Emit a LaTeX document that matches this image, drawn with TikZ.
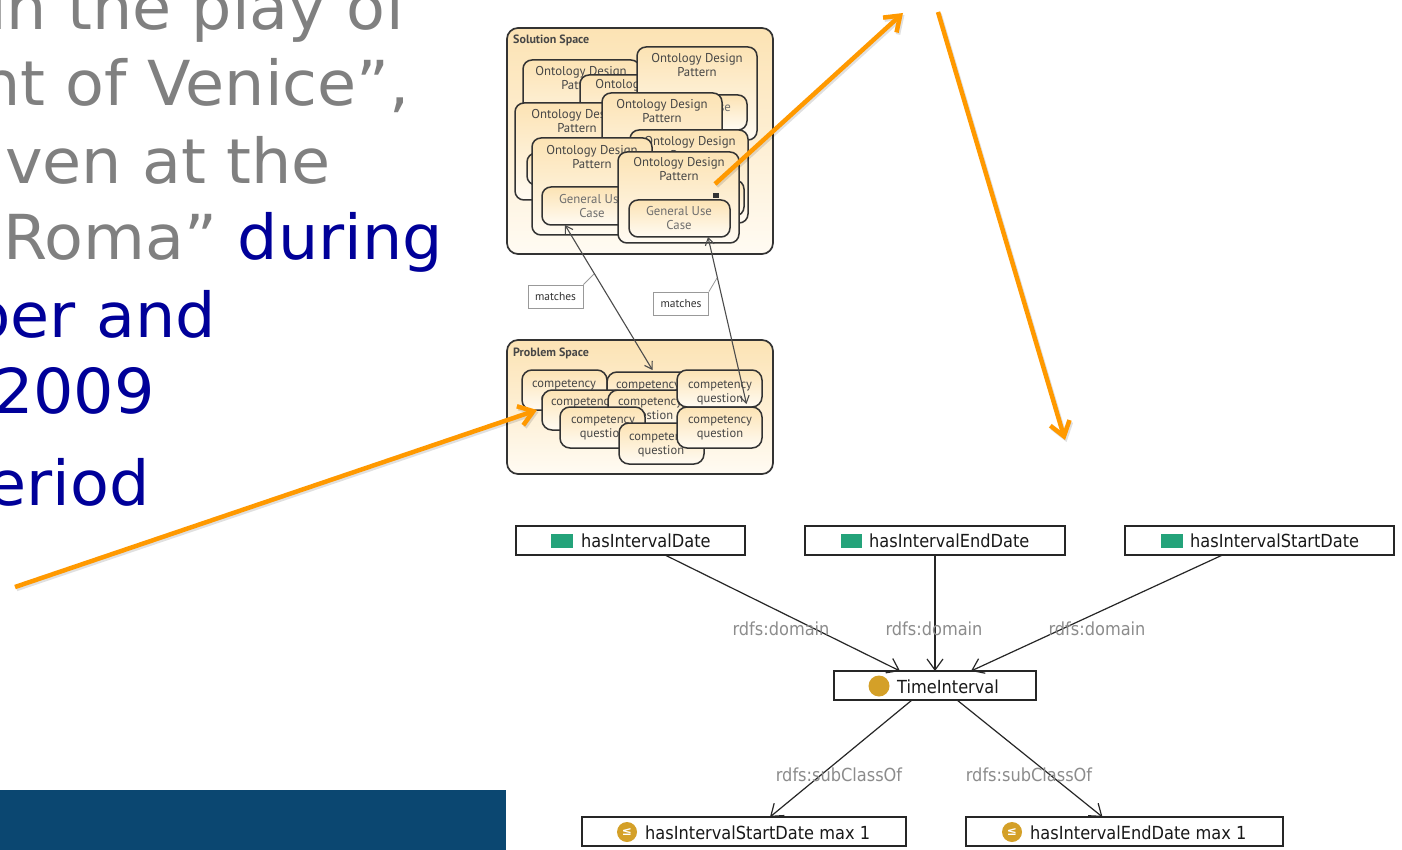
\documentclass[tikz,border=0pt]{standalone}
\usepackage{fontspec}
\setmainfont{DejaVu Sans}
\newfontfamily\slidefont[FakeStretch=1.025]{DejaVu Sans}
\newfontfamily\iconfont{DejaVu Sans}
\newfontfamily\gillfont{PT Sans}
\newfontfamily\owlfont[FakeStretch=0.9]{DejaVu Sans}
\usetikzlibrary{arrows.meta}

\definecolor{slidegray}{RGB}{128,128,128}
\definecolor{slideblue}{RGB}{0,0,153}
\definecolor{barblue}{RGB}{11,71,113}
\definecolor{hiorange}{RGB}{255,153,0}
\definecolor{creamtop}{RGB}{252,227,180}
\definecolor{creambot}{RGB}{255,251,243}
\definecolor{boxline}{RGB}{51,51,51}
\definecolor{odptext}{RGB}{70,70,70}
\definecolor{guctext}{RGB}{110,110,110}
\definecolor{owlgreen}{RGB}{36,163,122}
\definecolor{owlgold}{RGB}{212,160,40}
\definecolor{lblgray}{RGB}{140,140,140}

% rounded box from its top-left and bottom-right corners
\newcommand\cornerbox[6]{%
  \node[#1, anchor=north west, minimum width={(#5-#3)*1pt},
        minimum height={(#6-#4)*1pt}] (#2) at (#3,#4) {};}

\begin{document}
\begin{tikzpicture}[x=1pt,y=-1pt,
  panel/.style={draw=boxline, line width=1.7pt, rounded corners=11pt,
    top color=creamtop, bottom color=creambot, inner sep=0pt, outer sep=0pt},
  odp/.style={draw=boxline, line width=1.5pt, rounded corners=9pt,
    top color=creamtop, bottom color=creambot, inner sep=0pt, outer sep=0pt},
  cqbox/.style={odp, rounded corners=10pt},
  paneltitle/.style={font=\gillfont\bfseries\fontsize{12}{14}\selectfont,
    text=odptext, anchor=base west, inner sep=0pt},
  odptxt/.style={font=\gillfont\fontsize{12.8}{14}\selectfont, text=odptext,
    align=center, inner sep=0pt},
  guctxt/.style={odptxt, text=guctext},
  cqtxt/.style={font=\gillfont\fontsize{12.5}{14}\selectfont, text=odptext,
    align=center, inner sep=0pt},
  matchbox/.style={draw=black!40, line width=0.8pt, fill=white,
    font=\gillfont\fontsize{11.5}{13}\selectfont, text=black!80,
    minimum width=55pt, minimum height=23pt, inner sep=0pt},
  matcharrow/.style={draw=black!70, line width=1.1pt,
    {Straight Barb[length=7pt,width=9pt]}-{Straight Barb[length=7pt,width=9pt]}},
  leader/.style={draw=black!40, line width=0.8pt},
  slidetxt/.style={font=\slidefont\fontsize{62}{76}\selectfont,
    anchor=base east, inner sep=0pt},
  owlbox/.style={draw=black!85, line width=1.3pt, fill=white,
    inner sep=0pt, outer sep=0pt},
  owltxt/.style={font=\owlfont\fontsize{18}{20}\selectfont, text=black!90,
    anchor=base west, inner sep=0pt},
  edgelbl/.style={font=\owlfont\fontsize{18}{20}\selectfont, text=lblgray,
    inner sep=0pt},
  owledge/.style={draw=black!85, line width=1.2pt,
    -{Straight Barb[length=11pt,width=16pt]}},
  hilite/.style={draw=hiorange, line width=4.5pt,
    -{Straight Barb[length=14pt,width=20pt]},
    preaction={draw=black, opacity=0.12, line width=4.5pt,
      transform canvas={shift={(1.5pt,-2pt)}}}},
]
\useasboundingbox (0,0) rectangle (1402,850);
\fill[white] (0,0) rectangle (1402,850);

% ---------- slide text ----------
\node[slidetxt, text=slidegray] (t1) at (408,30) {in the play of};
\node[slidetxt, text=slidegray] (t2) at (410,106) {nt of Venice”,};
\node[slidetxt, text=slidegray] (t3) at (331,184) {ven at the};
\node[slidetxt, text=slidegray] (t4) at (443,260) {Roma” \textcolor{slideblue}{during}};
\node[slidetxt, text=slideblue] (t5) at (216,337) {ber and};
\node[slidetxt, text=slideblue] (t6) at (155,413) {2009};
\node[slidetxt, text=slideblue] (t7) at (150,505) {eriod};

\fill[barblue] (0,790) rectangle (506,850);

% ---------- solution space ----------
\cornerbox{panel}{sol}{507}{28}{773}{254}
\node[paneltitle] (soltitle) at (513,44) {Solution Space};

\cornerbox{odp}{pa}{523}{60}{640}{150}
\node[odptxt] (pat) at (581,78.5) {Ontology Design\\Pattern};
\cornerbox{odp}{pc}{580}{75}{702}{140}
\node[odptxt] (pct) at (641,91) {Ontology Design\\Pattern};
\cornerbox{odp}{pb}{637}{47}{757}{140}
\node[odptxt] (pbt) at (697,65) {Ontology Design\\Pattern};
\cornerbox{odp}{pbu}{650}{95}{747}{130}
\node[guctxt] (pbut) at (698,114) {General Use\\Case};
\cornerbox{odp}{pd}{515}{103}{630}{200}
\node[odptxt] (pdt) at (577,121) {Ontology Design\\Pattern};
\cornerbox{odp}{pdu}{527}{153}{625}{185}
\cornerbox{odp}{pe}{602}{93}{722}{190}
\node[odptxt] (pet) at (662,111) {Ontology Design\\Pattern};
\cornerbox{odp}{pf}{630}{130}{748}{223}
\node[odptxt] (pft) at (690,148.5) {Ontology Design\\Pattern};
\cornerbox{odp}{pfu}{641}{180}{744}{216}
\cornerbox{odp}{pg}{532}{138}{652}{235}
\node[odptxt] (pgt) at (592,157) {Ontology Design\\Pattern};
\cornerbox{odp}{gu}{542}{187}{642}{225}
\node[guctxt] (gut) at (592,206) {General Use\\Case};
\cornerbox{odp}{ph}{618}{152}{739}{243}
\node[odptxt] (pht) at (679,169.5) {Ontology Design\\Pattern};
\cornerbox{odp}{hu}{629}{200}{730}{237}
\node[guctxt] (hut) at (679,218) {General Use\\Case};
\fill[boxline] (713,193) rectangle (719,198);

% ---------- problem space ----------
\cornerbox{panel}{prob}{507}{340}{773}{474}
\node[paneltitle] (probtitle) at (513,356) {Problem Space};

\cornerbox{cqbox}{p1}{522}{370}{607}{410}
\node[cqtxt] (p1t) at (564,392) {competency\\question};
\cornerbox{cqbox}{p2}{607}{372}{690}{410}
\node[cqtxt] (p2t) at (648,393) {competency\\question};
\cornerbox{cqbox}{p4}{542}{390}{625}{430}
\node[cqtxt] (p4t) at (583,410) {competency\\question};
\cornerbox{cqbox}{p5}{608}{390}{692}{430}
\node[cqtxt] (p5t) at (650,410) {competency\\question};
\cornerbox{cqbox}{p3}{677}{370}{762}{407}
\node[cqtxt] (p3t) at (720,393) {competency\\question};
\cornerbox{cqbox}{p6}{560}{407}{645}{448}
\node[cqtxt] (p6t) at (603,428) {competency\\question};
\cornerbox{cqbox}{p7}{619}{423}{704}{464}
\node[cqtxt] (p7t) at (661,445) {competency\\question};
\cornerbox{cqbox}{p8}{677}{407}{762}{448}
\node[cqtxt] (p8t) at (720,428) {competency\\question};

% ---------- matches links ----------
\draw[matcharrow] ([xshift=-27pt]gu.south) -- ([xshift=4pt,yshift=2pt]p2.north);
\draw[matcharrow] ([xshift=28.5pt]hu.south) -- ([xshift=27pt,yshift=3pt]p3.south);
\node[matchbox] (m1) at (555.5,296.5) {matches};
\node[matchbox] (m2) at (681,303.5) {matches};
\draw[leader] (m1.north east) -- (594,274);
\draw[leader] (m2.north east) -- (717,278);

% ---------- ontology graph ----------
\cornerbox{owlbox}{hid}{516}{526}{745}{555}
\fill[owlgreen] (551,534) rectangle (573,548);
\node[owltxt] (hidt) at (581,547) {hasIntervalDate};

\cornerbox{owlbox}{hied}{805}{526}{1065}{555}
\fill[owlgreen] (841,534) rectangle (862,548);
\node[owltxt] (hiedt) at (869,547) {hasIntervalEndDate};

\cornerbox{owlbox}{hisd}{1125}{526}{1394}{555}
\fill[owlgreen] (1161,534) rectangle (1183,548);
\node[owltxt] (hisdt) at (1190,547) {hasIntervalStartDate};

\cornerbox{owlbox}{ti}{834}{671}{1036}{700}
\fill[owlgold] (879,686) circle (10.5);
\node[owltxt] (tit) at (897,693) {TimeInterval};

\cornerbox{owlbox}{smax}{582}{817}{906}{846}
\fill[owlgold] (627,832) circle (10);
\node[font=\iconfont\bfseries\fontsize{12}{12}\selectfont, text=white, inner sep=0pt] (smaxi) at (627,832) {≤};
\node[owltxt] (smaxt) at (645,839) {hasIntervalStartDate max 1};

\cornerbox{owlbox}{emax}{966}{817}{1283}{846}
\fill[owlgold] (1012,832) circle (10);
\node[font=\iconfont\bfseries\fontsize{12}{12}\selectfont, text=white, inner sep=0pt] (emaxi) at (1012,832) {≤};
\node[owltxt] (emaxt) at (1030,839) {hasIntervalEndDate max 1};

\draw[owledge] ([xshift=34.5pt]hid.south) -- ([xshift=-35pt]ti.north);
\draw[owledge] (hied.south) -- (ti.north);
\draw[owledge] ([xshift=-37pt]hisd.south) -- ([xshift=36pt]ti.north);
\draw[owledge] ([xshift=-23pt]ti.south) -- ([xshift=26pt]smax.north);
\draw[owledge] ([xshift=22pt]ti.south) -- ([xshift=-22pt]emax.north);

\node[edgelbl] (l1) at (781,629) {rdfs:domain};
\node[edgelbl] (l2) at (934,629) {rdfs:domain};
\node[edgelbl] (l3) at (1097,629) {rdfs:domain};
\node[edgelbl] (l4) at (839,775) {rdfs:subClassOf};
\node[edgelbl] (l5) at (1029,775) {rdfs:subClassOf};

% ---------- highlight arrows ----------
\coordinate (o1s) at (15,587);
\coordinate (o2s) at (715,184);
\coordinate (o2e) at (903,13);
\coordinate (o3s) at (938,12);
\coordinate (o3e) at (1065,440);
\draw[hilite] (o1s) -- ([xshift=-5pt]p4.west);
\draw[hilite] (o2s) -- (o2e);
\draw[hilite] (o3s) -- (o3e);
\end{tikzpicture}
\end{document}
